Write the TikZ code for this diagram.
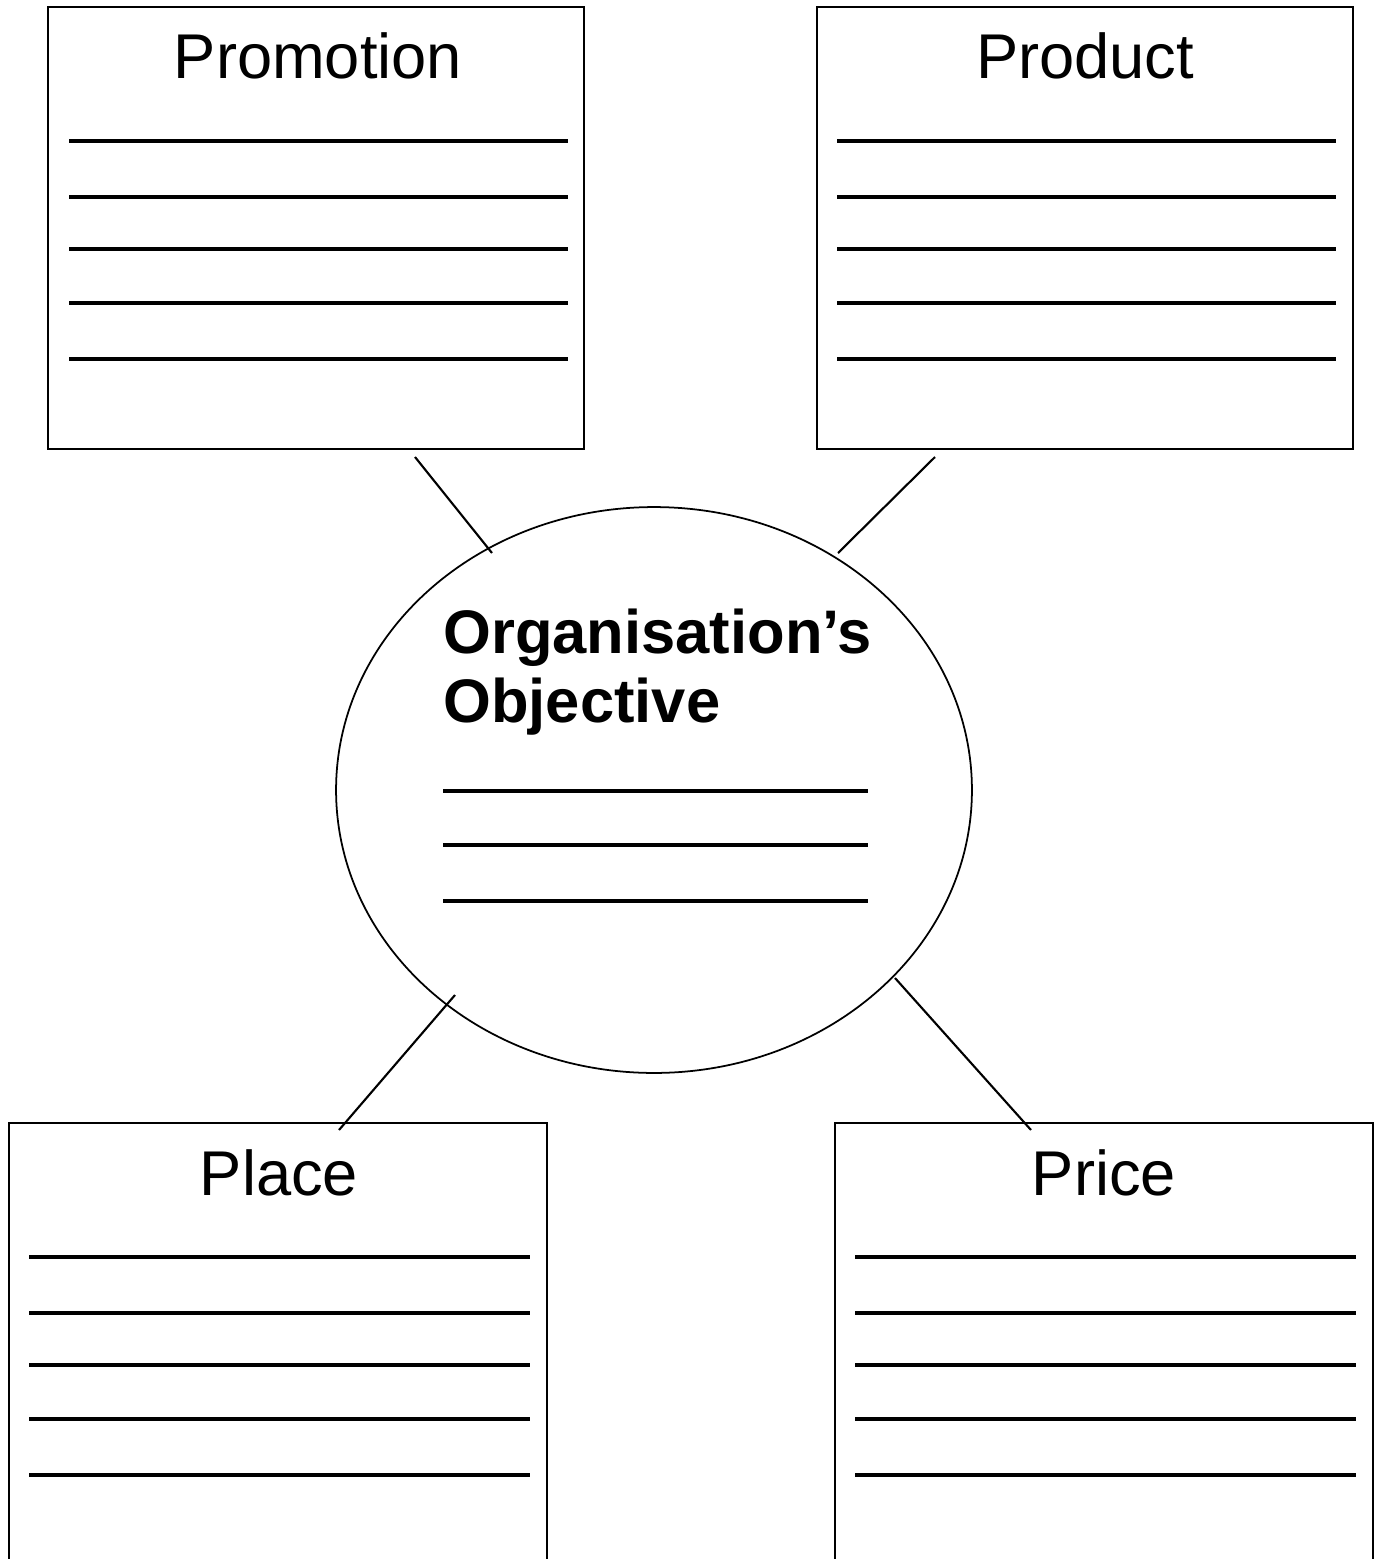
\documentclass[tikz,border=0pt]{standalone}
\usepackage{fontspec}
\setmainfont{Liberation Sans}
\usetikzlibrary{shapes.geometric,calc}
\begin{document}
\begin{tikzpicture}[x=0.02cm,y=-0.02cm,
  frame/.style={draw,line width=1pt,rectangle,inner sep=0pt,outer sep=0pt,anchor=north west},
  goal/.style={draw,line width=1pt,ellipse,inner sep=0pt,outer sep=0pt,minimum width=12.72cm,minimum height=11.32cm},
  rule/.style={line width=1.9pt},
  link/.style={line width=1.2pt},
  head/.style={font=\fontsize{36}{40}\selectfont,anchor=base,inner sep=0pt},
  goaltext/.style={font=\bfseries\fontsize{35}{40}\selectfont,anchor=base west,inner sep=0pt}]
\useasboundingbox (0,0) rectangle (1381,1559);
\fill[white] (0,0) rectangle (1381,1559);
\begin{scope}
\clip (0,0) rectangle (1381,1559);
% the four mix boxes (the lower two run off the bottom of the page)
\node[frame,minimum width=10.72cm,minimum height=8.84cm] (promo) at (48,7) {};
\node[frame,minimum width=10.72cm,minimum height=8.84cm] (prod) at (817,7) {};
\node[frame,minimum width=10.76cm,minimum height=9.8cm] (place) at (9,1123) {};
\node[frame,minimum width=10.76cm,minimum height=9.8cm] (price) at (835,1123) {};
% central objective
\node[goal] (goal) at (654,790) {};
% headings
\node[head] (promoT) at (318,78) {Promotion};
\node[head] (prodT) at (1085,78) {Product};
\node[head] (placeT) at (279,1195) {Place};
\node[head] (priceT) at (1104,1195) {Price};
\node[goaltext] (goalA) at (443,653) {Organisation’s};
\node[goaltext] (goalB) at (443,722) {Objective};
% writing lines
\foreach \y in {141,197,249,303,359} {
  \draw[rule] (69,\y) -- (568,\y);
  \draw[rule] (837,\y) -- (1336,\y);
}
\foreach \y in {1257,1313,1365,1419,1475} {
  \draw[rule] (29,\y) -- (530,\y);
  \draw[rule] (855,\y) -- (1356,\y);
}
\foreach \y in {791,845,901} {
  \draw[rule] (443,\y) -- (868,\y);
}
% connectors between the boxes and the objective
\coordinate (promoEnd) at (415,457);
\coordinate (goalNW) at (492,553);
\coordinate (prodEnd) at (935,457);
\coordinate (goalNE) at (838,553);
\coordinate (placeEnd) at (339,1130);
\coordinate (goalSW) at (455,995);
\coordinate (priceEnd) at (1031,1130);
\coordinate (goalSE) at (895,978);
\draw[link] (promoEnd) -- (goalNW);
\draw[link] (prodEnd) -- (goalNE);
\draw[link] (placeEnd) -- (goalSW);
\draw[link] (priceEnd) -- (goalSE);
\end{scope}
\end{tikzpicture}
\end{document}
